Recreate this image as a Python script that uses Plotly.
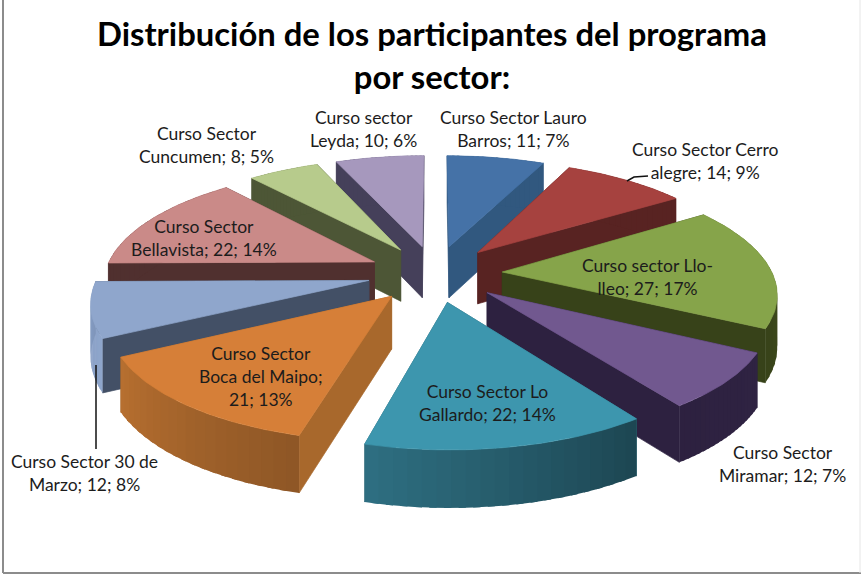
import numpy as np
import plotly.graph_objects as go

categories = ["Curso Sector Lauro Barros", "Curso Sector Cerro alegre", "Curso sector Llo-lleo",
              "Curso Sector Miramar", "Curso Sector Lo Gallardo", "Curso Sector Boca del Maipo",
              "Curso Sector 30 de Marzo", "Curso Sector Bellavista", "Curso Sector Cuncumen",
              "Curso sector Leyda"]
values = [11, 14, 27, 12, 22, 21, 12, 22, 8, 10]
percents = [7, 9, 17, 7, 14, 13, 8, 14, 5, 6]
wrapped = ["Curso Sector Lauro<br>Barros; ", "Curso Sector Cerro<br>alegre; ", "Curso sector Llo-<br>lleo; ",
           "Curso Sector<br>Miramar; ", "Curso Sector Lo<br>Gallardo; ", "Curso Sector<br>Boca del Maipo;<br>",
           "Curso Sector 30 de<br>Marzo; ", "Curso Sector<br>Bellavista; ", "Curso Sector<br>Cuncumen; ",
           "Curso sector<br>Leyda; "]
label_x = [513, 705, 647, 782, 487, 260, 84, 204, 206, 363]
label_y = [129, 161, 277, 464, 403, 376, 473, 238, 145, 129]
top_col = ["#4572a7", "#a6423f", "#86a44a", "#71588f", "#3d96ae", "#d67f38", "#8fa6cc", "#ca8a88", "#b7cb8c", "#a698bd"]
wall_col = ["#31587f", "#582322", "#374219", "#2d2140", "#2a6373", "#a8682c", "#435066", "#50302f", "#4d5636", "#45405a"]
arc_a = ["#31587f", "#582322", "#4a5a22", "#2f2342", "#1d4753", "#8f5726", "#8fa6cc", "#50302f", "#4d5636", "#45405a"]
arc_b = ["#31587f", "#582322", "#374219", "#2d2140", "#2f7083", "#b87030", "#7f95ba", "#50302f", "#4d5636", "#45405a"]

CX, CY, RX, RY, K, PULL, DEPTH = 435, 273.4, 270, 113.4, 0.16, 0.25, 52


def project(u, v, down=False):
    s = 1 / (1 + K * np.asarray(v, float))
    x = CX + RX * np.asarray(u, float) * s
    y = CY - RY * np.asarray(v, float) * s
    return x, (y + DEPTH * np.sqrt(s) if down else y)


def hexmix(a, b, t):
    ca = [int(a[i:i + 2], 16) for i in (1, 3, 5)]
    cb = [int(b[i:i + 2], 16) for i in (1, 3, 5)]
    return "rgb(%d,%d,%d)" % tuple(round(p + (q - p) * t) for p, q in zip(ca, cb))


def poly(fig, x, y, color, width=0.7):
    fig.add_trace(go.Scatter(x=list(x), y=list(y), mode="lines", fill="toself", fillcolor=color,
                             line=dict(color=color, width=width), hoverinfo="skip", showlegend=False))


fig = go.Figure()
edges = np.cumsum([0] + values) / sum(values) * 2 * np.pi
mids = (edges[:-1] + edges[1:]) / 2

for i in np.argsort(-np.cos(mids)):
    t = np.linspace(edges[i], edges[i + 1], 41)
    ou, ov = PULL * np.sin(mids[i]), PULL * np.cos(mids[i])
    u, v = ou + np.sin(t), ov + np.cos(t)
    ax, ay = project(ou, ov)
    axd, ayd = project(ou, ov, True)
    rx, ry = project(u, v)
    rxd, ryd = project(u, v, True)
    radial = [(rx[0], ry[0], rxd[0], ryd[0]), (rx[-1], ry[-1], rxd[-1], ryd[-1])]
    radial.sort(key=lambda e: e[1])
    for px, py, pxd, pyd in radial:
        poly(fig, [ax, px, pxd, axd, ax], [ay, py, pyd, ayd, ay], wall_col[i])
    step = 2
    for j in range(0, len(t) - 1, step):
        e = min(j + step + 1, len(t) - 1)
        xs = [*rx[j:e + 1], *rxd[j:e + 1][::-1], rx[j]]
        ys = [*ry[j:e + 1], *ryd[j:e + 1][::-1], ry[j]]
        poly(fig, xs, ys, hexmix(arc_a[i], arc_b[i], j / (len(t) - 1)), width=0)
    poly(fig, [ax, *rx, ax], [ay, *ry, ay], top_col[i])

annotations = []
for name, val, pct, lx, ly in zip(wrapped, values, percents, label_x, label_y):
    annotations.append(dict(x=lx, y=ly, xref="x", yref="y", text=f"{name}{val}; {pct}%", showarrow=False,
                            align="center", xanchor="center", yanchor="middle",
                            font=dict(family="Lato", size=17.5, color="#1c1c1c")))
annotations.append(dict(x=432, y=55, xref="x", yref="y", showarrow=False, align="center",
                        text="Distribución de los participantes del programa<br>por sector:",
                        font=dict(family="Lato", size=32.8, color="#000000", weight="bold")))

line_style = dict(color="#111111", width=1.5)
frame = dict(color="#8c8c8c", width=2)
shapes = [
    dict(type="line", x0=96, y0=365, x1=96, y1=449, xref="x", yref="y", line=line_style),
    dict(type="path", path="M 627 181 L 634 177 L 648 176", xref="x", yref="y", line=line_style),
    dict(type="line", x0=3, y0=0, x1=3, y1=573, xref="x", yref="y", line=frame),
    dict(type="line", x0=3, y0=573, x1=861, y1=573, xref="x", yref="y", line=frame),
    dict(type="line", x0=860, y0=0, x1=860, y1=573, xref="x", yref="y", line=dict(color="#e6e6e6", width=1)),
]

fig.update_layout(width=861, height=575, margin=dict(l=0, r=0, t=0, b=0), paper_bgcolor="white",
                  plot_bgcolor="white", showlegend=False, annotations=annotations, shapes=shapes,
                  xaxis=dict(range=[0, 861], visible=False, fixedrange=True),
                  yaxis=dict(range=[575, 0], visible=False, fixedrange=True))
fig.write_html("out.html", config={"displayModeBar": False},
               post_script="document.body.style.margin='0';document.body.style.overflow='hidden';")
